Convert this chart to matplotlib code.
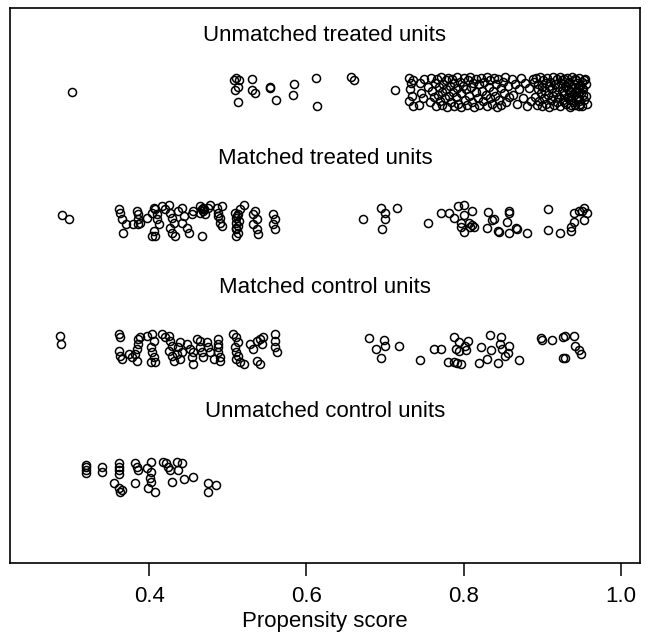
import numpy as np
import matplotlib.pyplot as plt

plt.rcParams['font.family'] = ['Liberation Sans', 'DejaVu Sans']

# (propensity score, vertical jitter) for each group
unmatched_treated = [
    (0.302, 0.00), (0.508, 0.09), (0.511, 0.11), (0.514, 0.09), (0.509, 0.015),
    (0.513, 0.04), (0.513, -0.076), (0.531, 0.10), (0.531, 0.015), (0.535, -0.01),
    (0.554, 0.04), (0.554, 0.03), (0.561, -0.06), (0.584, 0.06), (0.583, -0.02),
    (0.612, 0.11), (0.614, -0.11), (0.657, 0.12), (0.660, 0.09), (0.713, 0.015),
    (0.731, 0.11), (0.733, 0.07), (0.732, 0.02), (0.734, -0.03), (0.731, -0.07),
    (0.735, -0.11), (0.736, 0.09), (0.744, 0.07), (0.746, -0.01), (0.748, -0.05),
    (0.743, -0.10), (0.750, 0.10), (0.755, 0.04), (0.757, -0.08), (0.759, 0.11),
    (0.760, 0.01), (0.762, -0.04), (0.763, 0.07), (0.765, -0.11), (0.766, 0.10),
    (0.767, -0.02), (0.768, 0.04), (0.770, -0.07), (0.771, 0.12), (0.772, 0.00),
    (0.773, -0.10), (0.774, 0.06), (0.776, -0.05), (0.777, 0.09), (0.778, 0.02),
    (0.779, -0.12), (0.780, 0.11), (0.781, -0.03), (0.783, 0.05), (0.784, -0.08),
    (0.785, 0.10), (0.786, 0.00), (0.787, -0.11), (0.788, 0.07), (0.790, -0.04),
    (0.791, 0.12), (0.792, 0.03), (0.793, -0.09), (0.795, 0.08), (0.796, -0.01),
    (0.797, -0.12), (0.799, 0.05), (0.800, 0.11), (0.801, -0.06), (0.803, 0.02),
    (0.804, -0.10), (0.805, 0.09), (0.807, -0.03), (0.808, 0.12), (0.809, 0.04),
    (0.811, -0.08), (0.812, 0.07), (0.813, -0.12), (0.815, 0.00), (0.816, 0.10),
    (0.818, -0.05), (0.819, 0.06), (0.820, -0.10), (0.822, 0.11), (0.823, 0.01),
    (0.825, -0.07), (0.826, 0.08), (0.828, -0.02), (0.829, 0.12), (0.830, -0.11),
    (0.832, 0.04), (0.833, -0.05), (0.834, 0.09), (0.836, -0.09), (0.837, 0.01),
    (0.838, 0.11), (0.840, -0.03), (0.841, 0.06), (0.842, -0.12), (0.844, 0.10),
    (0.845, -0.06), (0.847, 0.03), (0.848, -0.10), (0.850, 0.08), (0.851, -0.01),
    (0.853, 0.12), (0.854, -0.08), (0.856, 0.05), (0.857, -0.04),
    (0.861, 0.10), (0.863, -0.02), (0.865, 0.06), (0.868, -0.09), (0.870, 0.02),
    (0.873, 0.11), (0.875, -0.05), (0.878, 0.07), (0.880, -0.11), (0.883, 0.03),
    (0.885, -0.07), (0.888, 0.10),
    (0.890, 0.08), (0.891, -0.04), (0.892, 0.11), (0.893, -0.10), (0.894, 0.02),
    (0.895, 0.06), (0.896, -0.07), (0.897, 0.12), (0.898, -0.01), (0.899, 0.04),
    (0.900, -0.11), (0.901, 0.09), (0.902, -0.05), (0.903, 0.01), (0.904, 0.07),
    (0.905, -0.09), (0.906, 0.11), (0.907, -0.02), (0.908, 0.05), (0.909, -0.12),
    (0.910, 0.08), (0.911, -0.06), (0.912, 0.03), (0.913, 0.12), (0.914, -0.03),
    (0.915, -0.10), (0.916, 0.06), (0.917, 0.00), (0.918, 0.10), (0.919, -0.08),
    (0.920, 0.04), (0.921, -0.04), (0.922, 0.12), (0.923, -0.11), (0.924, 0.07),
    (0.925, 0.01), (0.926, -0.06), (0.927, 0.10), (0.928, -0.02), (0.929, 0.05),
    (0.930, -0.09), (0.931, 0.11), (0.932, -0.05), (0.933, 0.02), (0.934, 0.08),
    (0.935, -0.12), (0.936, 0.04), (0.937, -0.03), (0.938, 0.12), (0.939, -0.08),
    (0.940, 0.06), (0.941, 0.00), (0.942, -0.10), (0.943, 0.09), (0.944, -0.04),
    (0.945, 0.03), (0.946, 0.11), (0.947, -0.07), (0.948, 0.05), (0.949, -0.01),
    (0.950, -0.11), (0.951, 0.08), (0.952, 0.02), (0.953, -0.06), (0.954, 0.10),
    (0.955, -0.03), (0.956, 0.06), (0.957, -0.09), (0.925, 0.09), (0.928, -0.08),
    (0.932, 0.07), (0.935, 0.00), (0.938, -0.06), (0.941, 0.10), (0.944, 0.07),
    (0.947, -0.11), (0.950, 0.03), (0.953, 0.09), (0.940, -0.02), (0.936, -0.10),
    (0.930, 0.04), (0.945, -0.05), (0.948, -0.09), (0.943, 0.01), (0.952, -0.02),
    (0.946, 0.00),
]

matched_treated = [
    (0.289, 0.04), (0.298, 0.01),
    (0.361, 0.086), (0.363, 0.060), (0.365, 0.008), (0.371, -0.031), (0.367, -0.096),
    (0.380, -0.031), (0.384, 0.073), (0.386, 0.047), (0.386, 0.008), (0.386, -0.031),
    (0.388, -0.018), (0.397, 0.021), (0.404, 0.060), (0.406, 0.099), (0.408, 0.086),
    (0.410, 0.047), (0.410, 0.008), (0.412, -0.031), (0.406, -0.083), (0.404, -0.120),
    (0.408, -0.120), (0.416, 0.112), (0.420, 0.086), (0.425, 0.120), (0.427, 0.060),
    (0.429, 0.021), (0.431, -0.018), (0.427, -0.057), (0.429, -0.096), (0.433, -0.120),
    (0.437, 0.073), (0.442, 0.099), (0.444, 0.034), (0.442, -0.018), (0.448, -0.057),
    (0.450, -0.096), (0.454, 0.047), (0.456, 0.073), (0.465, 0.112), (0.467, 0.086),
    (0.469, 0.099), (0.465, 0.060), (0.471, 0.047), (0.467, -0.120), (0.475, 0.099),
    (0.477, 0.120), (0.468, 0.073), (0.470, 0.085),
    (0.486, 0.099), (0.488, 0.060), (0.490, 0.021), (0.490, -0.018), (0.492, -0.044),
    (0.488, 0.034), (0.492, 0.112), (0.509, 0.060), (0.511, 0.021), (0.511, -0.018),
    (0.513, -0.044), (0.511, -0.070), (0.513, -0.096), (0.511, -0.120), (0.516, 0.086),
    (0.520, 0.120), (0.513, 0.047), (0.512, 0.034), (0.514, -0.005), (0.510, -0.057),
    (0.532, 0.047), (0.537, 0.008), (0.532, -0.031), (0.537, -0.070), (0.539, -0.109),
    (0.534, 0.073), (0.558, 0.047), (0.560, 0.008), (0.558, -0.031), (0.560, -0.070),
    (0.672, 0.013), (0.695, 0.099), (0.700, 0.055), (0.700, 0.013), (0.696, -0.065),
    (0.715, 0.094), (0.754, -0.023), (0.771, 0.055), (0.781, 0.055), (0.787, 0.02),
    (0.793, 0.112), (0.800, 0.120), (0.811, 0.07), (0.800, 0.04), (0.796, -0.02),
    (0.807, -0.02), (0.811, -0.04), (0.808, -0.05), (0.796, -0.05), (0.800, -0.09),
    (0.813, -0.05), (0.831, 0.065), (0.836, 0.0), (0.839, 0.01), (0.830, -0.06),
    (0.843, -0.085), (0.845, -0.09), (0.857, 0.07), (0.858, 0.055), (0.855, -0.01),
    (0.857, -0.10), (0.866, -0.06), (0.868, -0.07), (0.881, -0.10), (0.907, 0.09),
    (0.907, -0.075), (0.923, -0.10), (0.936, -0.085), (0.937, -0.05), (0.940, -0.01),
    (0.940, 0.055), (0.946, 0.07), (0.953, 0.10), (0.957, 0.055), (0.953, 0.0),
    (0.950, 0.07),
]

matched_control = [
    (0.287, 0.10), (0.288, 0.04),
    (0.361, 0.115), (0.363, 0.089), (0.361, -0.016), (0.363, -0.055), (0.365, -0.081),
    (0.374, -0.042), (0.378, -0.068), (0.382, -0.042), (0.384, -0.003), (0.386, 0.036),
    (0.386, 0.076), (0.384, -0.094), (0.388, 0.089), (0.397, 0.102), (0.404, 0.115),
    (0.406, 0.063), (0.402, 0.010), (0.404, -0.029), (0.406, -0.068), (0.402, -0.107),
    (0.408, -0.107), (0.416, 0.115), (0.420, 0.089), (0.425, 0.102), (0.427, 0.063),
    (0.429, 0.023), (0.425, -0.016), (0.429, -0.055), (0.431, -0.094), (0.435, -0.042),
    (0.437, 0.010), (0.439, 0.049), (0.442, -0.029), (0.439, -0.081), (0.448, 0.036),
    (0.452, -0.003), (0.456, -0.029), (0.454, -0.068), (0.461, 0.076), (0.465, 0.063),
    (0.465, 0.010), (0.467, -0.029), (0.469, -0.068), (0.456, -0.120), (0.473, 0.049),
    (0.475, 0.010), (0.477, -0.029), (0.482, -0.081), (0.488, 0.076), (0.488, 0.036),
    (0.488, 0.010), (0.488, -0.029), (0.490, -0.068), (0.490, -0.094), (0.507, 0.115),
    (0.511, 0.089), (0.513, 0.049), (0.509, 0.010), (0.511, -0.029), (0.513, -0.055),
    (0.511, -0.081), (0.516, -0.107), (0.520, -0.120), (0.528, 0.036), (0.532, -0.003),
    (0.537, 0.063), (0.541, 0.076), (0.543, 0.036), (0.545, 0.089), (0.537, -0.094),
    (0.541, -0.120), (0.560, 0.115), (0.560, 0.063), (0.560, 0.010), (0.562, -0.029),
    (0.680, 0.08), (0.699, 0.07), (0.689, 0.0), (0.700, 0.02), (0.695, -0.07),
    (0.718, 0.02), (0.745, -0.086), (0.762, 0.0), (0.771, 0.0), (0.787, 0.09),
    (0.794, 0.05), (0.806, 0.06), (0.801, 0.02), (0.790, 0.0), (0.794, -0.02),
    (0.803, -0.01), (0.780, -0.10), (0.788, -0.10), (0.792, -0.11), (0.797, -0.12),
    (0.822, 0.015), (0.833, 0.105), (0.847, 0.095), (0.846, 0.04), (0.835, -0.01),
    (0.849, -0.005), (0.858, 0.02), (0.856, -0.03), (0.852, -0.06), (0.820, -0.115),
    (0.830, -0.08), (0.843, -0.115), (0.870, -0.09), (0.898, 0.08), (0.899, 0.07),
    (0.912, 0.07), (0.926, 0.095), (0.929, 0.10), (0.940, 0.10), (0.942, 0.02),
    (0.946, -0.01), (0.949, -0.04), (0.926, -0.07), (0.929, -0.07),
]

unmatched_control = [
    (0.320, 0.094), (0.320, 0.075), (0.320, 0.055), (0.320, 0.034),
    (0.340, 0.081), (0.340, 0.042),
    (0.362, 0.107), (0.362, 0.081), (0.362, 0.055), (0.362, 0.020),
    (0.355, -0.050), (0.361, -0.088), (0.363, -0.114), (0.365, -0.100),
    (0.382, 0.107), (0.384, 0.081), (0.386, 0.055), (0.397, 0.068), (0.402, 0.120),
    (0.402, 0.042), (0.401, -0.010), (0.402, -0.036), (0.399, -0.088), (0.408, -0.114),
    (0.382, -0.050), (0.418, 0.120), (0.422, 0.107), (0.424, 0.081), (0.427, 0.055),
    (0.429, -0.036), (0.435, 0.120), (0.442, 0.107), (0.437, 0.055), (0.444, -0.018),
    (0.456, -0.003), (0.475, -0.050), (0.485, -0.062), (0.475, -0.114),
]

groups = [unmatched_treated, matched_treated, matched_control, unmatched_control]
labels = ["Unmatched treated units", "Matched treated units",
          "Matched control units", "Unmatched control units"]
rows = [3, 2, 1, 0]
label_y = [3.44, 2.48, 1.48, 0.51]
xticks = [0.4, 0.6, 0.8, 1.0]

fig = plt.figure(figsize=(6.46, 6.43), dpi=100)
ax = fig.add_axes([0.0155, 0.1244, 0.975, 0.8632])

for pts, lab, r, ly in zip(groups, labels, rows, label_y):
    pts = np.array(pts)
    ax.plot(pts[:, 0], r + pts[:, 1], 'o', ms=5.8, mfc='none', mec='black', mew=1.1)
    ax.text(0.5 * (0.223 + 1.024), ly, lab, ha='center', va='center', fontsize=16)

ax.set_xlim(0.223, 1.024)
ax.set_ylim(-0.67, 3.655)
ax.set_yticks([])
ax.set_xticks(xticks)
ax.set_xticklabels(["%.1f" % t for t in xticks])
ax.tick_params(axis='x', length=9.5, width=1.1, pad=7, labelsize=16)
for s in ax.spines.values():
    s.set_linewidth(1.2)
ax.set_xlabel("Propensity score", fontsize=16, labelpad=3)

fig.savefig("out.png", dpi=100)
